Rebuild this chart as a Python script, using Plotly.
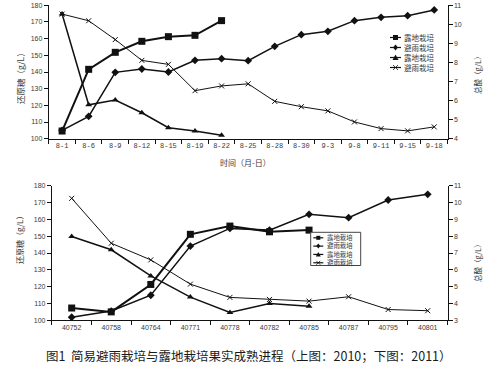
import plotly.graph_objects as go

W, H = 491, 378

# ---------------- data ----------------
cats_2010 = ["8-1", "8-6", "8-9", "8-12", "8-15", "8-19", "8-22", "8-25",
             "8-28", "8-30", "9-3", "9-8", "9-11", "9-15", "9-18"]
sugar_open_2010 = [104.6, 141.6, 151.8, 158.4, 161.2, 162.0, 170.8]
sugar_shelter_2010 = [105.0, 113.4, 139.8, 141.8, 140.0, 147.0, 148.0, 146.8,
                      155.4, 162.4, 164.4, 170.8, 172.8, 173.8, 177.2]
acid_open_2010 = [10.54, 5.78, 6.03, 5.36, 4.58, 4.41, 4.18]
acid_shelter_2010 = [10.54, 10.19, 9.2, 8.11, 7.90, 6.52, 6.77, 6.88,
                     5.96, 5.68, 5.46, 4.88, 4.53, 4.41, 4.62]

cats_2011 = ["40752", "40758", "40764", "40771", "40778", "40782", "40785",
             "40787", "40795", "40801"]
sugar_open_2011 = [107.3, 105.0, 121.3, 151.1, 156.0, 152.6, 153.6]
sugar_shelter_2011 = [101.8, 105.5, 114.9, 144.1, 154.6, 153.6, 163.0, 161.0,
                      171.5, 174.9]
acid_open_2011 = [7.98, 7.19, 5.64, 4.38, 3.47, 4.00, 3.84]
acid_shelter_2011 = [10.25, 7.58, 6.59, 5.15, 4.36, 4.24, 4.14, 4.40, 3.64, 3.57]

names = ["露地栽培", "避雨栽培", "露地栽培", "避雨栽培"]
caption = "图1  简易避雨栽培与露地栽培果实成熟进程（上图：2010；下图：2011）"

# ---------------- helpers ----------------
def px(x):
    return x / W


def py(y):
    return 1 - y / H


INK = "#111111"
TXT = "#3a3a3a"

styles = [
    dict(symbol="square", size=7, lw=2.0),
    dict(symbol="diamond", size=6, lw=1.5),
    dict(symbol="triangle-up", size=6, lw=1.5),
    dict(symbol="x-thin", size=5, lw=1.0),
]


def add_series(fig, x, y, idx, xa, ya):
    s = styles[idx]
    marker = dict(symbol=s["symbol"], size=s["size"], color=INK)
    if s["symbol"] == "x-thin":
        marker["line"] = dict(width=1, color=INK)
    fig.add_trace(go.Scatter(
        x=x[:len(y)], y=y, mode="lines+markers", name=names[idx],
        line=dict(color=INK, width=s["lw"]), marker=marker,
        xaxis=xa, yaxis=ya, showlegend=False, cliponaxis=False))


fig = go.Figure()
add_series(fig, cats_2010, sugar_open_2010, 0, "x", "y")
add_series(fig, cats_2010, sugar_shelter_2010, 1, "x", "y")
add_series(fig, cats_2010, acid_open_2010, 2, "x", "y2")
add_series(fig, cats_2010, acid_shelter_2010, 3, "x", "y2")

add_series(fig, cats_2011, sugar_open_2011, 0, "x2", "y3")
add_series(fig, cats_2011, sugar_shelter_2011, 1, "x2", "y3")
add_series(fig, cats_2011, acid_open_2011, 2, "x2", "y4")
add_series(fig, cats_2011, acid_shelter_2011, 3, "x2", "y4")

axis_common = dict(showline=True, linecolor=INK, linewidth=1, ticks="outside",
                   ticklen=4, tickcolor=INK, tickwidth=1, showgrid=False,
                   zeroline=False, automargin=False)

top_dom_x = [px(48.8), px(447.5)]
top_dom_y = [py(138.7), py(5.3)]
bot_dom_x = [px(51.9), px(447.5)]
bot_dom_y = [py(320.3), py(185.7)]

NUMF = dict(family="Liberation Sans", size=7, color=TXT)

fig.update_layout(
    width=W, height=H, margin=dict(l=0, r=0, t=0, b=0),
    paper_bgcolor="white", plot_bgcolor="white", showlegend=False,
    hovermode=False,
    xaxis=dict(axis_common, domain=top_dom_x, anchor="y", type="category",
               range=[-0.5, len(cats_2010) - 0.5], tickson="boundaries",
               tickfont=dict(family="Liberation Mono", size=7, color=TXT)),
    yaxis=dict(axis_common, domain=top_dom_y, anchor="x", range=[100, 180],
               dtick=10, tickfont=NUMF),
    yaxis2=dict(axis_common, overlaying="y", side="right", anchor="x",
                range=[4, 11], dtick=1, tickfont=NUMF),
    xaxis2=dict(axis_common, domain=bot_dom_x, anchor="y3", type="category",
                range=[-0.5, len(cats_2011) - 0.5], tickson="boundaries",
                tickfont=NUMF),
    yaxis3=dict(axis_common, domain=bot_dom_y, anchor="x2", range=[100, 180],
                dtick=10, tickfont=NUMF),
    yaxis4=dict(axis_common, overlaying="y3", side="right", anchor="x2",
                range=[3, 11], dtick=1, tickfont=NUMF),
)

CJK = "Noto Sans CJK SC"
ann = []
# axis titles
ann.append(dict(text="还原糖（g/L）", x=px(20), y=py(76), textangle=-90,
                font=dict(family=CJK, size=8.5, color=TXT)))
ann.append(dict(text="总酸（g/L）", x=px(477), y=py(73), textangle=-90,
                font=dict(family=CJK, size=7.5, color=TXT)))
ann.append(dict(text="时间（月-日）", x=px(246), y=py(163),
                font=dict(family=CJK, size=8, color=TXT)))
ann.append(dict(text="还原糖（g/L）", x=px(19), y=py(238), textangle=-90,
                font=dict(family=CJK, size=8, color=TXT)))
ann.append(dict(text="总酸（g/L）", x=px(477), y=py(261), textangle=-90,
                font=dict(family=CJK, size=7.5, color=TXT)))
ann.append(dict(text=caption, x=px(249), y=py(355),
                font=dict(family=CJK, size=12.5, color="#1a1a1a")))

shapes = []


def swatches(x0, x1, ys, mk):
    cx = (x0 + x1) / 2
    for i, yy in enumerate(ys):
        shapes.append(dict(type="line", xref="paper", yref="paper",
                           x0=px(x0), x1=px(x1), y0=py(yy), y1=py(yy),
                           line=dict(color=INK, width=1.2)))
        sym = styles[i]["symbol"]
        if sym == "square":
            shapes.append(dict(type="rect", xref="paper", yref="paper",
                               x0=px(cx - mk), x1=px(cx + mk),
                               y0=py(yy + mk), y1=py(yy - mk),
                               fillcolor=INK, line=dict(width=0)))
        elif sym == "diamond":
            p = (f"M{px(cx)},{py(yy - mk - 0.5)} L{px(cx + mk)},{py(yy)} "
                 f"L{px(cx)},{py(yy + mk + 0.5)} L{px(cx - mk)},{py(yy)} Z")
            shapes.append(dict(type="path", xref="paper", yref="paper", path=p,
                               fillcolor=INK, line=dict(width=0)))
        elif sym == "triangle-up":
            p = (f"M{px(cx)},{py(yy - mk - 0.5)} L{px(cx + mk + 0.5)},{py(yy + mk)} "
                 f"L{px(cx - mk - 0.5)},{py(yy + mk)} Z")
            shapes.append(dict(type="path", xref="paper", yref="paper", path=p,
                               fillcolor=INK, line=dict(width=0)))
        else:
            p = (f"M{px(cx - mk)},{py(yy - mk)} L{px(cx + mk)},{py(yy + mk)} "
                 f"M{px(cx - mk)},{py(yy + mk)} L{px(cx + mk)},{py(yy - mk)}")
            shapes.append(dict(type="path", xref="paper", yref="paper", path=p,
                               line=dict(color=INK, width=0.8)))


# top legend (no frame)
top_ys = [37.5, 47.5, 57.5, 67.5]
swatches(390, 401, top_ys, 2.5)
for i, yy in enumerate(top_ys):
    ann.append(dict(text=names[i], x=px(402), y=py(yy), xanchor="left",
                    font=dict(family=CJK, size=7.5, color=TXT)))

# bottom legend (framed): labels in one multi-line text block
shapes.append(dict(type="rect", xref="paper", yref="paper",
                   x0=px(310.7), x1=px(360.7), y0=py(265.5), y1=py(232.3),
                   fillcolor="white", line=dict(color="#444444", width=1)))
fs_b = 6.4
step = fs_b * 1.3
bot_ys = [237.8 + k * step for k in range(4)]
swatches(313.3, 323.3, bot_ys, 2.0)
ann.append(dict(text="<br>".join(names), x=px(324.5),
                y=py((bot_ys[0] + bot_ys[-1]) / 2), xanchor="left",
                align="left", font=dict(family=CJK, size=fs_b, color=TXT)))

for a in ann:
    a.setdefault("xanchor", "center")
    a.update(xref="paper", yref="paper", showarrow=False, yanchor="middle")
fig.update_layout(annotations=ann, shapes=shapes)

fig.write_html(
    "out.html",
    config={"displayModeBar": False, "staticPlot": True},
    post_script="document.body.style.margin='0px';"
                "document.body.style.overflow='hidden';")
